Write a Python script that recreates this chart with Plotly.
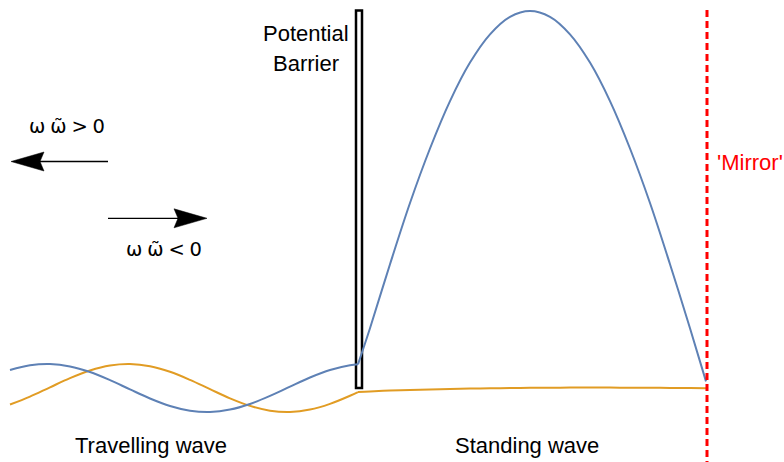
import plotly.graph_objects as go

# Horizontal position along the line of propagation (px-like units) and wave amplitude
# measured upward from the baseline.

# Travelling-wave region (left of the barrier)
trav_x = [10, 30, 50, 70, 90, 110, 130, 150, 170, 190, 210, 230, 250, 270, 290, 310,
          330, 350, 358]
trav_blue = [17.94, 22.68, 23.96, 21.60, 15.94, 7.85, -1.41, -10.46, -17.96, -22.67,
             -23.96, -21.60, -15.98, -7.93, 1.41, 10.47, 17.94, 22.68, 23.63]
trav_orange = [-16.55, -8.58, 0.71, 9.89, 17.55, 22.50, 23.98, 21.77, 16.20, 8.12,
               -1.19, -10.34, -17.88, -22.67, -23.96, -21.56, -15.85, -7.75, -4.04]

# Standing-wave region (between barrier and mirror)
stand_x = [358, 370, 390, 410, 430, 450, 470, 490, 510, 530, 550, 570, 590, 610, 630,
           650, 670, 690, 706]
stand_blue = [23.63, 59.7, 123.8, 185.0, 239.5, 286.9, 325.4, 353.7, 371.2, 377.0,
              371.2, 353.7, 325.4, 286.9, 239.5, 185.0, 123.8, 59.7, 6.6]
stand_orange = [-4.04, -3.4, -2.6, -2.0, -1.5, -1.0, -0.6, -0.3, 0.0, 0.2, 0.3, 0.4,
                0.4, 0.4, 0.3, 0.2, 0.1, -0.1, -0.3]

# Structure positions
barrier_x = [356, 362]
barrier_top = 377.5
mirror_x = 707
mirror_top = 379

# Direction arrows: (tail x, tip x, height)
arrows = [(108, 11, 226.5), (108, 207, 169.7)]

BLUE = "#5E81B5"
ORANGE = "#E19C24"
FONT = "Liberation Sans, Arial, sans-serif"
SP = "\u2005"  # narrow space used in the frequency-sign labels

fig = go.Figure()

shapes = []
# Potential barrier: a thin outlined slab, drawn beneath the waves
shapes.append(dict(type="rect", xref="x", yref="y", x0=barrier_x[0], x1=barrier_x[1],
                   y0=0, y1=barrier_top, line=dict(color="black", width=2.5),
                   fillcolor="white", layer="below"))

fig.add_trace(go.Scatter(x=trav_x, y=trav_orange, mode="lines",
                         line=dict(color=ORANGE, width=2, shape="spline", smoothing=1),
                         hoverinfo="skip"))
fig.add_trace(go.Scatter(x=stand_x, y=stand_orange, mode="lines",
                         line=dict(color=ORANGE, width=2, shape="spline", smoothing=1),
                         hoverinfo="skip"))
fig.add_trace(go.Scatter(x=trav_x, y=trav_blue, mode="lines",
                         line=dict(color=BLUE, width=2, shape="spline", smoothing=1),
                         hoverinfo="skip"))
fig.add_trace(go.Scatter(x=stand_x, y=stand_blue, mode="lines",
                         line=dict(color=BLUE, width=2, shape="spline", smoothing=1),
                         hoverinfo="skip"))

# Mirror
shapes.append(dict(type="line", xref="x", yref="y", x0=mirror_x, x1=mirror_x,
                   y0=-80, y1=mirror_top, line=dict(color="#FF0000", width=3,
                                                    dash="7px,4px"), layer="above"))

# Arrows with stealth-style heads
HEAD_LEN, HEAD_HALF, NOTCH = 33, 9.5, 4
for x_tail, x_tip, yy in arrows:
    d = 1 if x_tip > x_tail else -1
    back = x_tip - d * HEAD_LEN
    shapes.append(dict(type="line", xref="x", yref="y", x0=x_tail, x1=back + d * NOTCH,
                       y0=yy, y1=yy, line=dict(color="black", width=1.3)))
    path = (f"M {x_tip},{yy} L {back},{yy + HEAD_HALF} "
            f"L {back + d * NOTCH},{yy} L {back},{yy - HEAD_HALF} Z")
    shapes.append(dict(type="path", xref="x", yref="y", path=path,
                       fillcolor="black", line=dict(color="black", width=0.5)))

labels = [
    ("Potential", 306, 355, "black", FONT, 22),
    ("Barrier", 306, 324.5, "black", FONT, 22),
    ("'Mirror'", 749.5, 225.5, "#FF0000", FONT, 22),
    ("Travelling wave", 151, -57, "black", FONT, 22),
    ("Standing wave", 526.5, -57, "black", FONT, 22),
    (f"\u03c9{SP}\u03c9\u0303{SP}>{SP}0", 66.5, 262, "black", "DejaVu Sans", 19.5),
    (f"\u03c9{SP}\u03c9\u0303{SP}<{SP}0", 164, 139, "black", "DejaVu Sans", 19.5),
]
annotations = [dict(text=t, x=x, y=y, xref="x", yref="y", showarrow=False,
                    xanchor="center", yanchor="middle",
                    font=dict(family=f, size=s, color=c))
               for t, x, y, c, f, s in labels]

fig.update_layout(
    width=784, height=462,
    margin=dict(l=0, r=0, t=0, b=0),
    paper_bgcolor="white", plot_bgcolor="white",
    showlegend=False,
    xaxis=dict(range=[0, 784], visible=False, fixedrange=True),
    yaxis=dict(range=[-74, 388], visible=False, fixedrange=True),
    shapes=shapes, annotations=annotations,
)

fig.write_html("out.html")
